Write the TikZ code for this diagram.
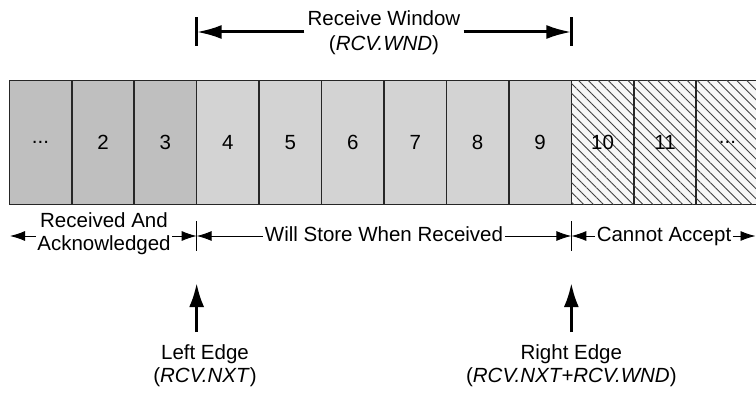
\documentclass[tikz,border=0pt]{standalone}
\usepackage{fontspec}
\setmainfont{Liberation Sans}
\usetikzlibrary{positioning, arrows.meta, patterns.meta, calc}
\definecolor{seqold}{HTML}{BFBFBF}
\definecolor{seqwin}{HTML}{D3D3D3}
\definecolor{seqout}{HTML}{F7F7F7}
\newcommand{\dotlbl}{...}

\begin{document}
\begin{tikzpicture}[x=1pt, y=-1pt,
  font=\fontsize{20.5}{23}\selectfont,
  seg/.style={draw=black!85, line width=1.6pt, outer sep=0pt, inner sep=0pt,
    minimum width=62.45pt, minimum height=124.2pt, anchor=north west},
  acked/.style={seg, fill=seqold},
  inwin/.style={seg, fill=seqwin},
  beyond/.style={seg, fill=seqout,
    postaction={pattern={Lines[angle=-45, distance=7pt, line width=0.9pt]}, pattern color=black!75}},
  span/.style={-{Latex[length=15pt, width=10pt]}, line width=0.9pt},
  wndarrow/.style={-{Latex[length=25pt, width=14pt]}, line width=3pt},
  edgearrow/.style={-{Latex[length=24pt, width=15pt]}, line width=3pt},
  lbl/.style={align=center, inner sep=3pt},
  onelbl/.style={inner sep=1.5pt, text height=14pt, text depth=4pt}
]
\useasboundingbox (0,0) rectangle (756,393);

% sequence space
\foreach \i/\t/\s in {0/\dotlbl/acked, 1/2/acked, 2/3/acked,
    3/4/inwin, 4/5/inwin, 5/6/inwin, 6/7/inwin, 7/8/inwin, 8/9/inwin,
    9/10/beyond, 10/11/beyond, 11/\dotlbl/beyond}
  \node[\s] (c\i) at ({9.3+62.45*\i}, 80.5) {\t};

% receive window
\coordinate (wl) at (196.65,32);
\coordinate (wr) at (571.35,32);
\node[lbl] (rwnd) at (384,33) {Receive Window\\[2pt](\textit{RCV.WND})};
\draw[wndarrow] (rwnd.west |- wl) -- (wl);
\draw[wndarrow] (rwnd.east |- wr) -- (wr);
\draw[line width=3pt] (wl) ++(0,-14.5) -- ++(0,29);
\draw[line width=3pt] (wr) ++(0,-14.5) -- ++(0,29);

% ranges below
\coordinate (farl) at (10,236);
\coordinate (lt) at (196.65,236);
\coordinate (rt) at (571.35,236);
\coordinate (farr) at (755.5,236);
\draw[line width=0.9pt] (lt) ++(0,-14.5) -- ++(0,30);
\draw[line width=0.9pt] (rt) ++(0,-14.5) -- ++(0,30);

\node[lbl, inner sep=1.5pt] (rack) at (104,234) {Received And\\Acknowledged};
\node[onelbl] (store) at (384,237) {Will Store When Received};
\node[onelbl] (nacc) at (664,237) {Cannot Accept};
\draw[span] (rack.west |- farl) -- (farl);
\draw[span] (rack.east |- lt) -- (lt);
\draw[span] (store.west |- lt) -- (lt);
\draw[span] (store.east |- rt) -- (rt);
\draw[span] (nacc.west |- rt) -- (rt);
\draw[span] (nacc.east |- farr) -- (farr);

% edges
\coordinate (ltip) at (196.65,283);
\coordinate (lbase) at (196.65,332);
\coordinate (rtip) at (571.35,283);
\coordinate (rbase) at (571.35,332);
\draw[edgearrow] (lbase) -- (ltip);
\draw[edgearrow] (rbase) -- (rtip);
\node[lbl] (ledge) at (205,366) {Left Edge\\(\textit{RCV.NXT})};
\node[lbl] (redge) at (571.35,366) {Right Edge\\(\textit{RCV.NXT+RCV.WND})};
\end{tikzpicture}
\end{document}
